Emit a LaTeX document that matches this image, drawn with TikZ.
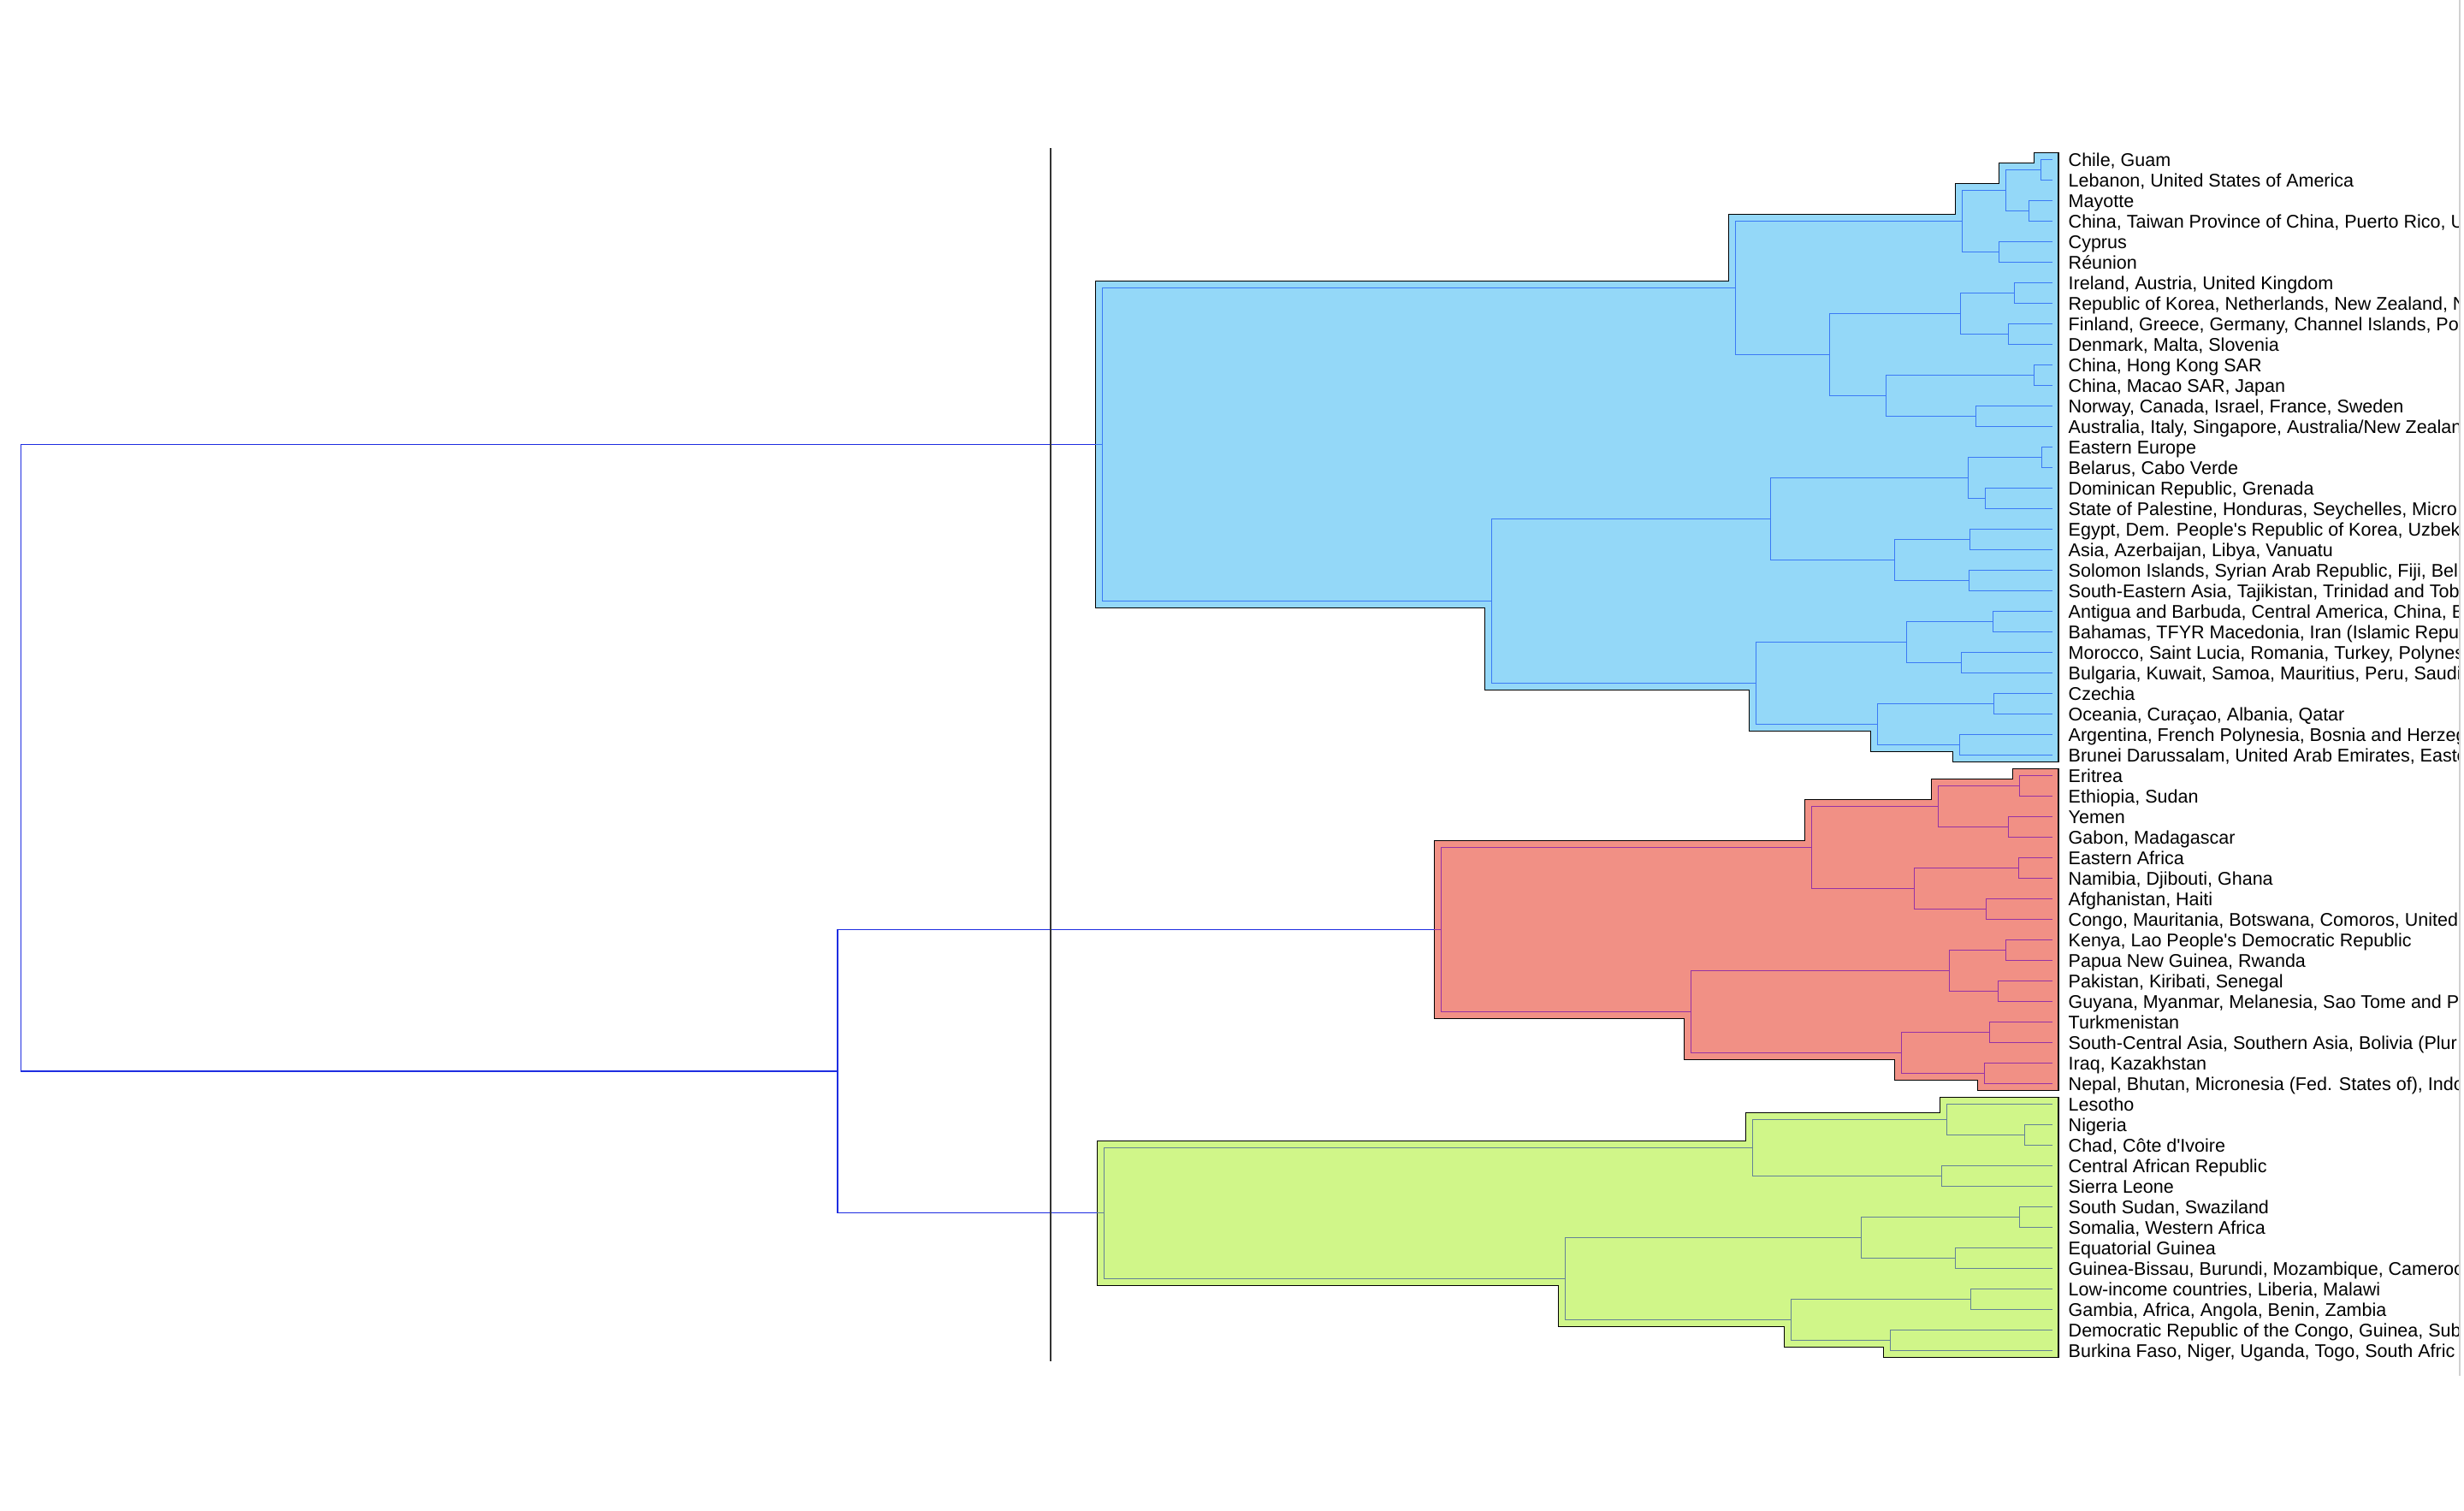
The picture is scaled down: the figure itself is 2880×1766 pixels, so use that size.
\documentclass[tikz,border=0pt]{standalone}
\usepackage{fontspec}
\newfontfamily\labfont{Liberation Sans}
\definecolor{blfill}{RGB}{148,216,248}
\definecolor{blline}{RGB}{59,122,245}
\definecolor{rdfill}{RGB}{241,144,133}
\definecolor{rdline}{RGB}{150,50,165}
\definecolor{grfill}{RGB}{208,246,137}
\definecolor{grline}{RGB}{100,130,150}
\definecolor{rtline}{RGB}{30,45,225}
\definecolor{axline}{RGB}{51,51,51}
% one merge of a dendrogram: child -> joint -> child
\newcommand{\dmerge}[4]{\draw[#1] (#2) -| (#3) |- (#4);}
\begin{document}
\begin{tikzpicture}[x=1pt,y=-1pt,
  dline/.style={line width=1.3pt},
  bl/.style={dline,draw=blline},
  rd/.style={dline,draw=rdline},
  gr/.style={dline,draw=grline},
  rt/.style={dline,draw=rtline},
  axisline/.style={line width=2.2pt,draw=axline},
  cbox/.style={draw=black,line width=1.5pt,line join=miter},
  lab/.style={anchor=west,inner sep=0pt,text height=15.4pt,text depth=0pt,
    font=\labfont\fontsize{21.5}{24}\selectfont,text=black}]

\useasboundingbox[fill=white] (0,0) rectangle (2880,1766);

% ---------- leaf ends ----------
\foreach \i in {0,...,58} \coordinate (e\i) at (2398.5,{186.3+24*\i});

% ---------- joints: blue cluster ----------
\coordinate (b01)   at (2385.7,198.3);
\coordinate (b23)   at (2371.3,246.3);
\coordinate (b03)   at (2344.3,222.3);
\coordinate (b45)   at (2336.3,294.3);
\coordinate (b05)   at (2293.3,258.3);
\coordinate (b67)   at (2354.3,342.3);
\coordinate (b89)   at (2347.3,390.3);
\coordinate (b69)   at (2291.3,366.3);
\coordinate (b1011) at (2377.3,438.3);
\coordinate (b1213) at (2309.3,486.3);
\coordinate (b1013) at (2204.3,462.3);
\coordinate (b613)  at (2138.3,414.3);
\coordinate (b013)  at (2028.3,336.3);
\coordinate (b1415) at (2386.4,534.3);
\coordinate (b1617) at (2320.3,582.3);
\coordinate (b1417) at (2300.3,558.3);
\coordinate (b1819) at (2302.2,630.3);
\coordinate (b2021) at (2301.4,678.3);
\coordinate (b1821) at (2214.5,654.3);
\coordinate (b1421) at (2069.4,606.3);
\coordinate (b2223) at (2329.5,726.3);
\coordinate (b2425) at (2292.6,774.3);
\coordinate (b2225) at (2228.6,750.3);
\coordinate (b2627) at (2330.4,822.3);
\coordinate (b2829) at (2290.6,870.3);
\coordinate (b2629) at (2194.6,846.3);
\coordinate (b2229) at (2052.6,798.3);
\coordinate (b1429) at (1743.4,702.3);
\coordinate (b029)  at (1288.3,519.3);
\coordinate (bstem) at (1280.3,519.3);

% ---------- joints: red cluster ----------
\coordinate (r3031) at (2360.3,918.3);
\coordinate (r3233) at (2347.3,966.3);
\coordinate (r3033) at (2265.3,942.3);
\coordinate (r3435) at (2359.3,1014.3);
\coordinate (r3637) at (2321.3,1062.3);
\coordinate (r3437) at (2237.3,1038.3);
\coordinate (r3037) at (2117.3,990.3);
\coordinate (r3839) at (2344.3,1110.3);
\coordinate (r4041) at (2335.3,1158.3);
\coordinate (r3841) at (2278.3,1134.3);
\coordinate (r4243) at (2325.3,1206.3);
\coordinate (r4445) at (2319.3,1254.3);
\coordinate (r4245) at (2222.3,1230.3);
\coordinate (r3845) at (1976.3,1182.3);
\coordinate (r3045) at (1684.3,1086.3);
\coordinate (rstem) at (1676.3,1086.3);

% ---------- joints: green cluster ----------
\coordinate (g4748) at (2366.5,1326.3);
\coordinate (g4648) at (2275.5,1308.3);
\coordinate (g4950) at (2269.4,1374.3);
\coordinate (g4650) at (2048.3,1341.3);
\coordinate (g5152) at (2360.4,1422.3);
\coordinate (g5354) at (2285.5,1470.3);
\coordinate (g5154) at (2175.4,1446.3);
\coordinate (g5556) at (2303.6,1518.3);
\coordinate (g5758) at (2209.4,1566.3);
\coordinate (g5558) at (2093.3,1542.3);
\coordinate (g5158) at (1829.3,1494.3);
\coordinate (g4658) at (1290.3,1417.8);
\coordinate (gstem) at (1282.3,1417.8);

% ---------- top-level joints ----------
\coordinate (rg)   at (979,1252.05);
\coordinate (root) at (24.3,885.7);

% ---------- top-level tree ----------
\draw[rt] (b029) -| (root) |- (rg);
\draw[rt] (r3045) -| (rg) |- (g4658);

% cut line
\coordinate (axt) at (1228,173);
\coordinate (axb) at (1228,1590.7);
\draw[axisline] (axt) -- (axb);

% ---------- cluster outlines ----------
\filldraw[cbox,fill=blfill] (2406,178.3) -- (2377.7,178.3) -- (2377.7,190.3) -- (2336.3,190.3)
  -- (2336.3,214.3) -- (2285.3,214.3) -- (2285.3,250.3) -- (2020.3,250.3) -- (2020.3,328.3)
  -- (1280.3,328.3) -- (1280.3,710.3) -- (1735.4,710.3) -- (1735.4,806.3) -- (2044.6,806.3)
  -- (2044.6,854.3) -- (2186.6,854.3) -- (2186.6,878.3) -- (2282.6,878.3) -- (2282.6,890.3)
  -- (2406,890.3) -- cycle;
\filldraw[cbox,fill=rdfill] (2406,898.3) -- (2352.3,898.3) -- (2352.3,910.3) -- (2257.3,910.3)
  -- (2257.3,934.3) -- (2109.3,934.3) -- (2109.3,982.3) -- (1676.3,982.3) -- (1676.3,1190.3)
  -- (1968.3,1190.3) -- (1968.3,1238.3) -- (2214.3,1238.3) -- (2214.3,1262.3) -- (2311.3,1262.3)
  -- (2311.3,1274.3) -- (2406,1274.3) -- cycle;
\filldraw[cbox,fill=grfill] (2406,1282.3) -- (2267.5,1282.3) -- (2267.5,1300.3) -- (2040.3,1300.3)
  -- (2040.3,1333.3) -- (1282.3,1333.3) -- (1282.3,1502.3) -- (1821.3,1502.3) -- (1821.3,1550.3)
  -- (2085.3,1550.3) -- (2085.3,1574.3) -- (2201.4,1574.3) -- (2201.4,1586.3) -- (2406,1586.3)
  -- cycle;

% ---------- blue dendrogram ----------
\dmerge{bl}{e0}{b01}{e1}
\dmerge{bl}{e2}{b23}{e3}
\dmerge{bl}{b01}{b03}{b23}
\dmerge{bl}{e4}{b45}{e5}
\dmerge{bl}{b03}{b05}{b45}
\dmerge{bl}{e6}{b67}{e7}
\dmerge{bl}{e8}{b89}{e9}
\dmerge{bl}{b67}{b69}{b89}
\dmerge{bl}{e10}{b1011}{e11}
\dmerge{bl}{e12}{b1213}{e13}
\dmerge{bl}{b1011}{b1013}{b1213}
\dmerge{bl}{b69}{b613}{b1013}
\dmerge{bl}{b05}{b013}{b613}
\dmerge{bl}{e14}{b1415}{e15}
\dmerge{bl}{e16}{b1617}{e17}
\dmerge{bl}{b1415}{b1417}{b1617}
\dmerge{bl}{e18}{b1819}{e19}
\dmerge{bl}{e20}{b2021}{e21}
\dmerge{bl}{b1819}{b1821}{b2021}
\dmerge{bl}{b1417}{b1421}{b1821}
\dmerge{bl}{e22}{b2223}{e23}
\dmerge{bl}{e24}{b2425}{e25}
\dmerge{bl}{b2223}{b2225}{b2425}
\dmerge{bl}{e26}{b2627}{e27}
\dmerge{bl}{e28}{b2829}{e29}
\dmerge{bl}{b2627}{b2629}{b2829}
\dmerge{bl}{b2225}{b2229}{b2629}
\dmerge{bl}{b1421}{b1429}{b2229}
\dmerge{bl}{b013}{b029}{b1429}
\draw[bl] (b029) -- (bstem);

% ---------- red dendrogram ----------
\dmerge{rd}{e30}{r3031}{e31}
\dmerge{rd}{e32}{r3233}{e33}
\dmerge{rd}{r3031}{r3033}{r3233}
\dmerge{rd}{e34}{r3435}{e35}
\dmerge{rd}{e36}{r3637}{e37}
\dmerge{rd}{r3435}{r3437}{r3637}
\dmerge{rd}{r3033}{r3037}{r3437}
\dmerge{rd}{e38}{r3839}{e39}
\dmerge{rd}{e40}{r4041}{e41}
\dmerge{rd}{r3839}{r3841}{r4041}
\dmerge{rd}{e42}{r4243}{e43}
\dmerge{rd}{e44}{r4445}{e45}
\dmerge{rd}{r4243}{r4245}{r4445}
\dmerge{rd}{r3841}{r3845}{r4245}
\dmerge{rd}{r3037}{r3045}{r3845}
\draw[rd] (r3045) -- (rstem);

% ---------- green dendrogram ----------
\dmerge{gr}{e47}{g4748}{e48}
\dmerge{gr}{e46}{g4648}{g4748}
\dmerge{gr}{e49}{g4950}{e50}
\dmerge{gr}{g4648}{g4650}{g4950}
\dmerge{gr}{e51}{g5152}{e52}
\dmerge{gr}{e53}{g5354}{e54}
\dmerge{gr}{g5152}{g5154}{g5354}
\dmerge{gr}{e55}{g5556}{e56}
\dmerge{gr}{e57}{g5758}{e58}
\dmerge{gr}{g5556}{g5558}{g5758}
\dmerge{gr}{g5154}{g5158}{g5558}
\dmerge{gr}{g4650}{g4658}{g5158}
\draw[gr] (g4658) -- (gstem);

% ---------- leaf labels ----------
\begin{scope}
\clip (2400,0) rectangle (2873,1766);
\node[lab] (l0)  at ([xshift=19pt]e0)  {Chile, Guam};
\node[lab] (l1)  at ([xshift=19pt]e1)  {Lebanon, United States of America};
\node[lab] (l2)  at ([xshift=19pt]e2)  {Mayotte};
\node[lab] (l3)  at ([xshift=19pt]e3)  {China, Taiwan Province of China, Puerto Rico, U};
\node[lab] (l4)  at ([xshift=19pt]e4)  {Cyprus};
\node[lab] (l5)  at ([xshift=19pt]e5)  {Réunion};
\node[lab] (l6)  at ([xshift=19pt]e6)  {Ireland, Austria, United Kingdom};
\node[lab] (l7)  at ([xshift=19pt]e7)  {Republic of Korea, Netherlands, New Zealand, N};
\node[lab] (l8)  at ([xshift=19pt]e8)  {Finland, Greece, Germany, Channel Islands, Por};
\node[lab] (l9)  at ([xshift=19pt]e9)  {Denmark, Malta, Slovenia};
\node[lab] (l10) at ([xshift=19pt]e10) {China, Hong Kong SAR};
\node[lab] (l11) at ([xshift=19pt]e11) {China, Macao SAR, Japan};
\node[lab] (l12) at ([xshift=19pt]e12) {Norway, Canada, Israel, France, Sweden};
\node[lab] (l13) at ([xshift=19pt]e13) {Australia, Italy, Singapore, Australia/New Zealan};
\node[lab] (l14) at ([xshift=19pt]e14) {Eastern Europe};
\node[lab] (l15) at ([xshift=19pt]e15) {Belarus, Cabo Verde};
\node[lab] (l16) at ([xshift=19pt]e16) {Dominican Republic, Grenada};
\node[lab] (l17) at ([xshift=19pt]e17) {State of Palestine, Honduras, Seychelles, Micro};
\node[lab] (l18) at ([xshift=19pt]e18) {Egypt, Dem. People's Republic of Korea, Uzbek};
\node[lab] (l19) at ([xshift=19pt]e19) {Asia, Azerbaijan, Libya, Vanuatu};
\node[lab] (l20) at ([xshift=19pt]e20) {Solomon Islands, Syrian Arab Republic, Fiji, Beli};
\node[lab] (l21) at ([xshift=19pt]e21) {South-Eastern Asia, Tajikistan, Trinidad and Tob};
\node[lab] (l22) at ([xshift=19pt]e22) {Antigua and Barbuda, Central America, China, E};
\node[lab] (l23) at ([xshift=19pt]e23) {Bahamas, TFYR Macedonia, Iran (Islamic Repub};
\node[lab] (l24) at ([xshift=19pt]e24) {Morocco, Saint Lucia, Romania, Turkey, Polynes};
\node[lab] (l25) at ([xshift=19pt]e25) {Bulgaria, Kuwait, Samoa, Mauritius, Peru, Saudi};
\node[lab] (l26) at ([xshift=19pt]e26) {Czechia};
\node[lab] (l27) at ([xshift=19pt]e27) {Oceania, Curaçao, Albania, Qatar};
\node[lab] (l28) at ([xshift=19pt]e28) {Argentina, French Polynesia, Bosnia and Herzeg};
\node[lab] (l29) at ([xshift=19pt]e29) {Brunei Darussalam, United Arab Emirates, Easte};
\node[lab] (l30) at ([xshift=19pt]e30) {Eritrea};
\node[lab] (l31) at ([xshift=19pt]e31) {Ethiopia, Sudan};
\node[lab] (l32) at ([xshift=19pt]e32) {Yemen};
\node[lab] (l33) at ([xshift=19pt]e33) {Gabon, Madagascar};
\node[lab] (l34) at ([xshift=19pt]e34) {Eastern Africa};
\node[lab] (l35) at ([xshift=19pt]e35) {Namibia, Djibouti, Ghana};
\node[lab] (l36) at ([xshift=19pt]e36) {Afghanistan, Haiti};
\node[lab] (l37) at ([xshift=19pt]e37) {Congo, Mauritania, Botswana, Comoros, United};
\node[lab] (l38) at ([xshift=19pt]e38) {Kenya, Lao People's Democratic Republic};
\node[lab] (l39) at ([xshift=19pt]e39) {Papua New Guinea, Rwanda};
\node[lab] (l40) at ([xshift=19pt]e40) {Pakistan, Kiribati, Senegal};
\node[lab] (l41) at ([xshift=19pt]e41) {Guyana, Myanmar, Melanesia, Sao Tome and Pr};
\node[lab] (l42) at ([xshift=19pt]e42) {Turkmenistan};
\node[lab] (l43) at ([xshift=19pt]e43) {South-Central Asia, Southern Asia, Bolivia (Plur};
\node[lab] (l44) at ([xshift=19pt]e44) {Iraq, Kazakhstan};
\node[lab] (l45) at ([xshift=19pt]e45) {Nepal, Bhutan, Micronesia (Fed. States of), Indo};
\node[lab] (l46) at ([xshift=19pt]e46) {Lesotho};
\node[lab] (l47) at ([xshift=19pt]e47) {Nigeria};
\node[lab] (l48) at ([xshift=19pt]e48) {Chad, Côte d'Ivoire};
\node[lab] (l49) at ([xshift=19pt]e49) {Central African Republic};
\node[lab] (l50) at ([xshift=19pt]e50) {Sierra Leone};
\node[lab] (l51) at ([xshift=19pt]e51) {South Sudan, Swaziland};
\node[lab] (l52) at ([xshift=19pt]e52) {Somalia, Western Africa};
\node[lab] (l53) at ([xshift=19pt]e53) {Equatorial Guinea};
\node[lab] (l54) at ([xshift=19pt]e54) {Guinea-Bissau, Burundi, Mozambique, Cameroo};
\node[lab] (l55) at ([xshift=19pt]e55) {Low-income countries, Liberia, Malawi};
\node[lab] (l56) at ([xshift=19pt]e56) {Gambia, Africa, Angola, Benin, Zambia};
\node[lab] (l57) at ([xshift=19pt]e57) {Democratic Republic of the Congo, Guinea, Sub};
\node[lab] (l58) at ([xshift=19pt]e58) {Burkina Faso, Niger, Uganda, Togo, South Afric};
\end{scope}

% right frame edge
\coordinate (edget) at (2875,0);
\coordinate (edgeb) at (2875,1608);
\draw[line width=2pt,draw=black!18] (edget) -- (edgeb);
\end{tikzpicture}
\end{document}
